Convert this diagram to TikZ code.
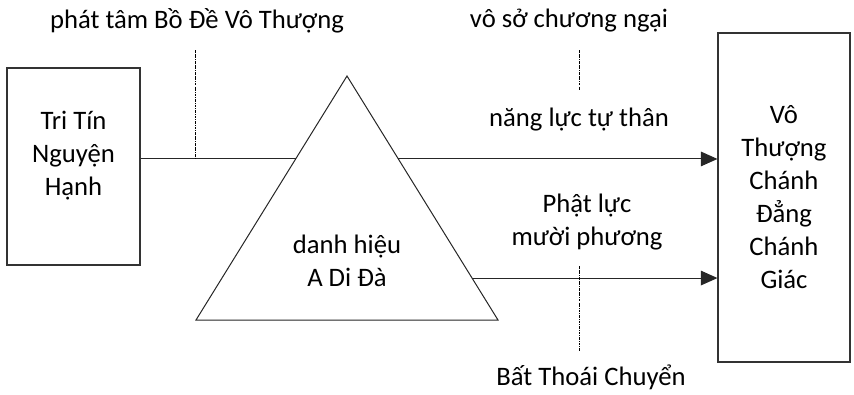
\documentclass[tikz,border=0pt]{standalone}
\usepackage{fontspec}
\setmainfont{Carlito}
\usetikzlibrary{arrows.meta, calc}
\tikzset{
  box/.style={rectangle, draw=black!80, line width=0.8pt, inner sep=0pt},
  lbl/.style={font=\fontsize{20}{24.75}\selectfont, align=center, inner sep=0pt},
  edge/.style={line width=0.75pt, black!85},
  arr/.style={-{Triangle[length=12.5pt, width=11pt]}, line width=0.75pt, black!85},
  guide/.style={line width=0.5pt, dash pattern=on 2pt off 0.8pt on 0.5pt off 0.8pt},
}
\begin{document}
\begin{tikzpicture}[x=0.75pt, y=-0.75pt]
\useasboundingbox (0,0) rectangle (854,394);
% boxes
\node[box, minimum width=99.75pt, minimum height=147.75pt] (src) at (73.5,166.5) {};
\node[lbl] (srctxt) at (73.5,156) {Tri Tín\\Nguyện\\Hạnh};
\node[box, minimum width=99pt, minimum height=246.75pt, lbl] (goal) at (784,197.5) {Vô\\Thượng\\Chánh\\Đẳng\\Chánh\\Giác};
% triangle
\coordinate (apex) at (347,76);
\coordinate (bl) at (196,320);
\coordinate (br) at (498,320);
\draw[edge] (apex) -- (bl) -- (br) -- cycle;
\node[lbl] (name) at (347,261) {danh hiệu\\A Di Đà};
\coordinate (tl) at ($(apex)!0.34!(bl)$);
\coordinate (tr) at ($(apex)!0.34!(br)$);
\coordinate (br2) at ($(apex)!0.828!(br)$);
% connectors
\draw[edge] (tl -| src.east) -- (tl);
\draw[arr] (tr) -- (tr -| goal.west);
\draw[arr] (br2) -- (br2 -| goal.west);
% labels
\node[lbl] (bodhi) at (197,21) {phát tâm Bồ Đề Vô Thượng};
\node[lbl] (free) at (569,21) {vô sở chương ngại};
\node[lbl] (self) at (579,120) {năng lực tự thân};
\node[lbl] (buddha) at (587,222) {Phật lực\\mười phương};
\node[lbl] (avai) at (591,377) {Bất Thoái Chuyển};
% guides
\draw[guide] (195,50) -- (195,159);
\draw[guide] (579,50) -- (579,90);
\draw[guide] (579,266) -- (579,351);
\end{tikzpicture}
\end{document}
